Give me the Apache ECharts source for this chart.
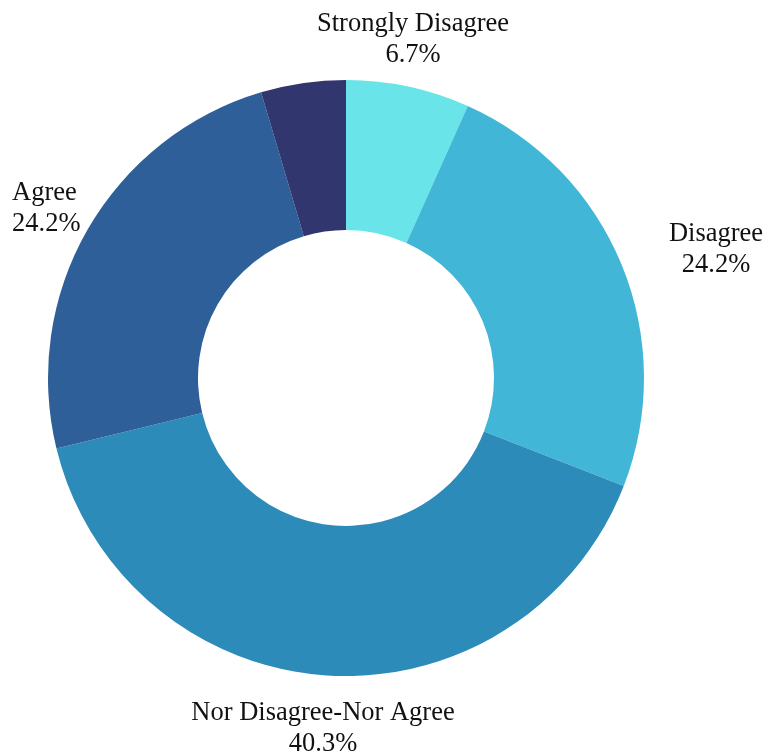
<!DOCTYPE html>
<html>
<head>
<meta charset="utf-8">
<script src="https://cdn.jsdelivr.net/npm/echarts@6/dist/echarts.min.js"></script>
<style>
  html, body { margin: 0; padding: 0; background: #ffffff; }
  #chart { width: 768px; height: 755px; }
</style>
</head>
<body>
<div id="chart"></div>
<script>
// Survey responses, share of respondents (%)
const categories = ['Strongly Disagree', 'Disagree', 'Nor Disagree-Nor Agree', 'Agree', 'Strongly Agree'];
const shares = [6.7, 24.2, 40.3, 24.2, 4.6];
const colors = ['#69e4e8', '#42b6d6', '#2d8bba', '#2e5f98', '#31366e'];
const showLabel = [true, true, true, true, false];

// Where each outside label block sits (centre point of the two-line text)
const labelSpots = [
  { x: 413, y: 40, align: 'center' },
  { x: 716, y: 250, align: 'center' },
  { x: 323, y: 729, align: 'center' },
  { x: 12, y: 209, align: 'left' }
];

const chart = echarts.init(document.getElementById('chart'), null, { renderer: 'canvas' });

chart.setOption({
  backgroundColor: '#ffffff',
  animation: false,
  series: [{
    type: 'pie',
    center: [346, 378],
    radius: [148, 298],
    startAngle: 90,
    clockwise: true,
    avoidLabelOverlap: false,
    label: {
      show: true,
      position: 'outside',
      formatter: p => p.name + '\n' + p.value + '%',
      fontFamily: 'Liberation Serif',
      fontSize: 26.5,
      lineHeight: 31,
      color: '#111111'
    },
    labelLine: { show: false },
    labelLayout: params => {
      const s = labelSpots[params.dataIndex];
      if (!s) return {};
      return { x: s.x, y: s.y, align: s.align, verticalAlign: 'middle' };
    },
    itemStyle: { borderWidth: 0 },
    emphasis: { disabled: true },
    data: categories.map((name, i) => ({
      name: name,
      value: shares[i],
      itemStyle: { color: colors[i] },
      label: { show: showLabel[i] }
    }))
  }]
});
</script>
</body>
</html>
